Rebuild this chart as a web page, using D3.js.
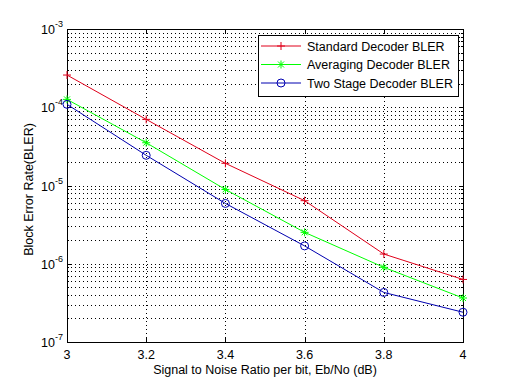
<!DOCTYPE html>
<html>
<head>
<meta charset="utf-8">
<script src="https://cdn.jsdelivr.net/npm/d3@7"></script>
<style>
  body { margin: 0; background: #fff; }
  text { font-family: "Liberation Sans", Arial, sans-serif; }
</style>
</head>
<body>
<script>
// data
var snr = [3, 3.2, 3.4, 3.6, 3.8, 4];
var standardBler = [2.58e-4, 7.0e-5, 1.92e-5, 6.4e-6, 1.33e-6, 6.3e-7];
var averagingBler = [1.26e-4, 3.52e-5, 8.9e-6, 2.52e-6, 9.0e-7, 3.65e-7];
var twoStageBler = [1.09e-4, 2.43e-5, 5.9e-6, 1.69e-6, 4.3e-7, 2.4e-7];
var xTicks = [3, 3.2, 3.4, 3.6, 3.8, 4];
var yExponents = [-7, -6, -5, -4, -3];
var seriesNames = ["Standard Decoder BLER", "Averaging Decoder BLER", "Two Stage Decoder BLER"];

var margin = {left: 67, right: 49, top: 29, bottom: 42},
    width = 512 - margin.left - margin.right,
    height = 384 - margin.top - margin.bottom;
var fs = 12.5;

var svg = d3.select("body").append("svg")
    .attr("width", 512).attr("height", 384)
    .append("g")
    .attr("transform", "translate(" + margin.left + "," + margin.top + ")");

var x = d3.scaleLinear().domain([3, 4]).range([0, width]);
var y = d3.scaleLog().domain([1e-7, 1e-3]).range([height, 0]);

// grid lines (x major, y major + minor)
var minorVals = [];
yExponents.slice(0, -1).forEach(function(e) {
    for (var k = 1; k <= 9; k++) minorVals.push(k * Math.pow(10, e));
});
svg.selectAll(".ygrid").data(minorVals.filter(function(v) { return v > 1e-7; }))
    .join("line")
    .attr("x1", 0).attr("x2", width)
    .attr("y1", function(d) { return Math.round(y(d)) + 0.5; })
    .attr("y2", function(d) { return Math.round(y(d)) + 0.5; })
    .attr("stroke", "#000").attr("stroke-width", 1)
    .attr("stroke-dasharray", "1,3");
svg.selectAll(".xgrid").data(xTicks.slice(1, -1))
    .join("line")
    .attr("x1", function(d) { return Math.round(x(d)) + 0.5; })
    .attr("x2", function(d) { return Math.round(x(d)) + 0.5; })
    .attr("y1", 0).attr("y2", height)
    .attr("stroke", "#000").attr("stroke-width", 1)
    .attr("stroke-dasharray", "1,3");

// box
svg.append("rect").attr("x", 0.5).attr("y", 0.5)
    .attr("width", width).attr("height", height)
    .attr("fill", "none").attr("stroke", "#000");

// ticks inward, on all four sides
xTicks.forEach(function(t) {
    var px = Math.round(x(t)) + 0.5;
    svg.append("line").attr("x1", px).attr("x2", px).attr("y1", height).attr("y2", height - 4).attr("stroke", "#000");
    svg.append("line").attr("x1", px).attr("x2", px).attr("y1", 0).attr("y2", 4).attr("stroke", "#000");
    svg.append("text").attr("x", x(t)).attr("y", height + 17)
        .attr("text-anchor", "middle").attr("font-size", fs).text(t);
});
minorVals.concat([1e-3]).forEach(function(v) {
    var py = Math.round(y(v)) + 0.5;
    var len = (Math.abs(Math.log10(v) - Math.round(Math.log10(v))) < 1e-9) ? 4 : 2;
    svg.append("line").attr("x1", 0).attr("x2", len).attr("y1", py).attr("y2", py).attr("stroke", "#000");
    svg.append("line").attr("x1", width).attr("x2", width - len).attr("y1", py).attr("y2", py).attr("stroke", "#000");
});
yExponents.forEach(function(e) {
    var t = svg.append("text").attr("x", -4).attr("y", y(Math.pow(10, e)) + 5)
        .attr("text-anchor", "end").attr("font-size", fs);
    t.append("tspan").text("10");
    t.append("tspan").attr("dy", -7).attr("font-size", 9).text(e);
});

// series
var series = [
    {vals: standardBler, color: "#e0001a", marker: "plus"},
    {vals: averagingBler, color: "#00ff00", marker: "star"},
    {vals: twoStageBler, color: "#0000b0", marker: "circle"}
];
var line = d3.line().x(function(d) { return x(d[0]); }).y(function(d) { return y(d[1]); });

function drawMarker(g, type, color) {
    if (type === "plus") {
        g.append("path").attr("d", "M-4,0H4M0,-4V4").attr("stroke", color).attr("fill", "none");
    } else if (type === "star") {
        g.append("path").attr("d", "M-4,0H4M0,-4V4M-3,-3L3,3M-3,3L3,-3").attr("stroke", color).attr("fill", "none");
    } else {
        g.append("circle").attr("r", 4).attr("stroke", color).attr("fill", "none");
    }
}

series.forEach(function(s) {
    var pts = snr.map(function(v, i) { return [v, s.vals[i]]; });
    svg.append("path").datum(pts).attr("d", line)
        .attr("fill", "none").attr("stroke", s.color).attr("stroke-width", 1);
    pts.forEach(function(p) {
        var g = svg.append("g").attr("transform", "translate(" + x(p[0]) + "," + y(p[1]) + ")");
        drawMarker(g, s.marker, s.color);
    });
});

// legend
var legend = svg.append("g").attr("transform", "translate(" + (258 - margin.left) + "," + (35 - margin.top) + ")");
legend.append("rect").attr("x", 0.5).attr("y", 0.5).attr("width", 200).attr("height", 61)
    .attr("fill", "#fff").attr("stroke", "#000");
seriesNames.forEach(function(name, i) {
    var ly = 11 + i * 18.5;
    legend.append("line").attr("x1", 3).attr("x2", 43).attr("y1", ly).attr("y2", ly)
        .attr("stroke", series[i].color);
    drawMarker(legend.append("g").attr("transform", "translate(23," + ly + ")"), series[i].marker, series[i].color);
    legend.append("text").attr("x", 49).attr("y", ly + 4.5).attr("font-size", fs).text(name);
});

// axis labels
svg.append("text").attr("x", width / 2).attr("y", height + 32)
    .attr("text-anchor", "middle").attr("font-size", fs)
    .text("Signal to Noise Ratio per bit, Eb/No (dB)");
svg.append("text").attr("transform", "translate(" + (33 - margin.left) + "," + (height / 2 + 4) + ") rotate(-90)")
    .attr("text-anchor", "middle").attr("font-size", fs)
    .text("Block Error Rate(BLER)");
</script>
</body>
</html>
